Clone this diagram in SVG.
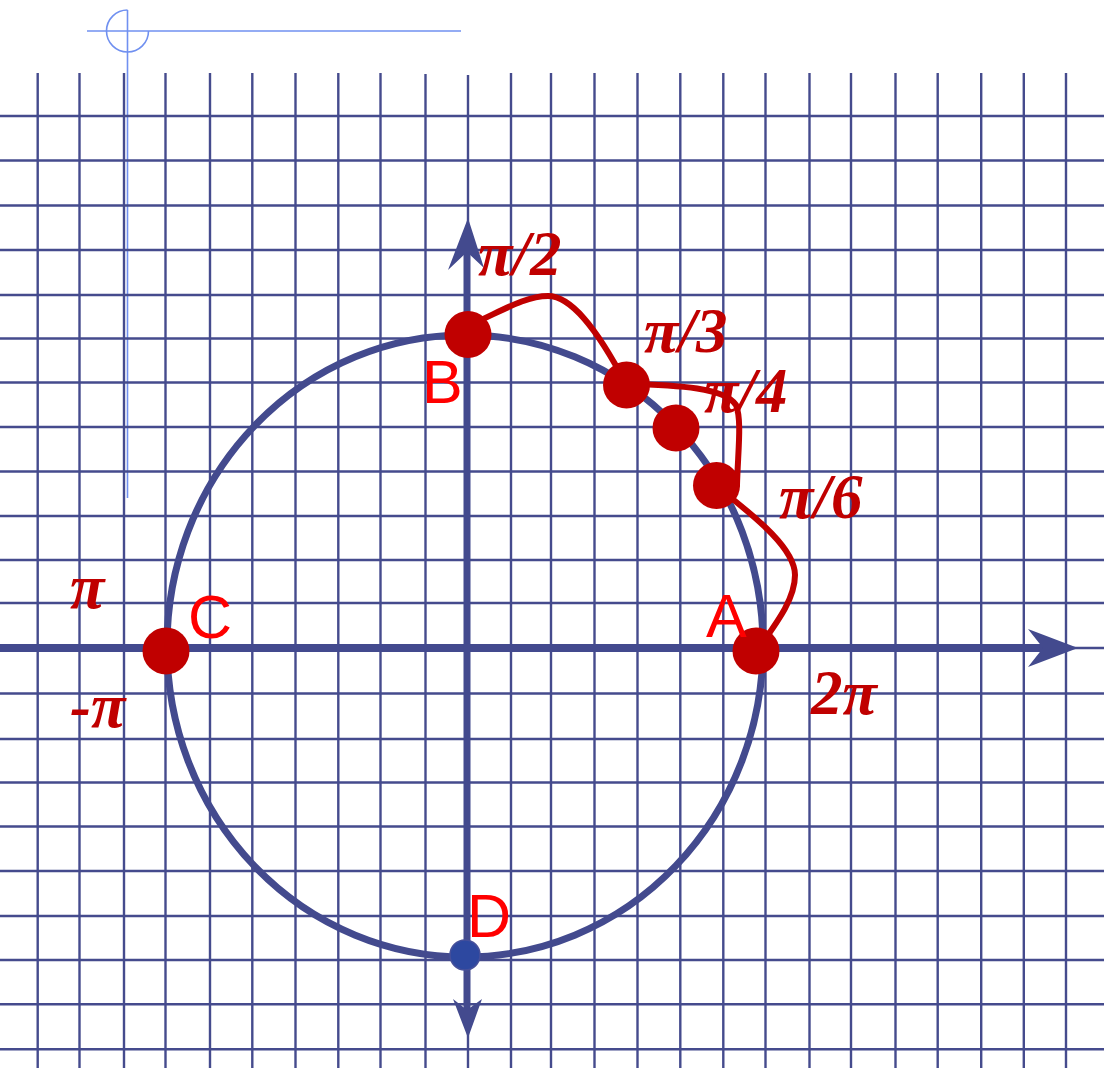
<svg xmlns="http://www.w3.org/2000/svg" width="1104" height="1068" viewBox="0 0 1104 1068">
<style>
.grid line{stroke:#454b8d;stroke-width:2.4}
.axis{stroke:#434a8e;stroke-width:8;fill:none}
.ring{stroke:#434a8e;stroke-width:7;fill:none}
.head{fill:#434a8e}
.guide{stroke:#7090f0;stroke-width:1.6;fill:none}
.curve{stroke:#c00000;stroke-width:6;fill:none;stroke-linecap:round}
.dot{fill:#c00000}
.ang{font-family:"Liberation Serif",serif;font-weight:bold;font-style:italic;font-size:63px;fill:#c00000}
.let{font-family:"Liberation Sans",sans-serif;font-size:61px;fill:#ff0000}
</style>
<rect width="1104" height="1068" fill="#ffffff"/>
<g id="guide">
<line class="guide" x1="127.5" y1="10" x2="127.5" y2="498"/>
<line class="guide" x1="87" y1="31" x2="461" y2="31"/>
<path class="guide" d="M127.5 10 A21 21 0 1 0 148.5 31"/>
</g>
<g id="grid" class="grid">
<line x1="37.7" y1="73" x2="37.7" y2="1068"/>
<line x1="79.5" y1="73" x2="79.5" y2="1068"/>
<line x1="124" y1="73" x2="124" y2="1068"/>
<line x1="165.5" y1="73" x2="165.5" y2="1068"/>
<line x1="210" y1="73" x2="210" y2="1068"/>
<line x1="252.3" y1="73" x2="252.3" y2="1068"/>
<line x1="295.5" y1="73" x2="295.5" y2="1068"/>
<line x1="338.3" y1="73" x2="338.3" y2="1068"/>
<line x1="380.5" y1="73" x2="380.5" y2="1068"/>
<line x1="425.5" y1="74" x2="425.5" y2="1068"/>
<line x1="468" y1="75" x2="468" y2="1068"/>
<line x1="511" y1="73" x2="511" y2="1068"/>
<line x1="551" y1="73" x2="551" y2="1068"/>
<line x1="594.5" y1="73" x2="594.5" y2="1068"/>
<line x1="637.5" y1="73" x2="637.5" y2="1068"/>
<line x1="680.3" y1="73" x2="680.3" y2="1068"/>
<line x1="723.3" y1="73" x2="723.3" y2="1068"/>
<line x1="765.5" y1="73" x2="765.5" y2="1068"/>
<line x1="809.5" y1="73" x2="809.5" y2="1068"/>
<line x1="851" y1="73" x2="851" y2="1068"/>
<line x1="895.5" y1="73" x2="895.5" y2="1068"/>
<line x1="937.7" y1="73" x2="937.7" y2="1068"/>
<line x1="981.2" y1="73" x2="981.2" y2="1068"/>
<line x1="1023.8" y1="73" x2="1023.8" y2="1068"/>
<line x1="1066" y1="73" x2="1066" y2="1068"/>
<line x1="0" y1="116" x2="1104" y2="116"/>
<line x1="0" y1="160.5" x2="1104" y2="160.5"/>
<line x1="0" y1="205.5" x2="1104" y2="205.5"/>
<line x1="0" y1="250" x2="1104" y2="250"/>
<line x1="0" y1="295" x2="1104" y2="295"/>
<line x1="0" y1="338.5" x2="1104" y2="338.5"/>
<line x1="0" y1="382.5" x2="1104" y2="382.5"/>
<line x1="0" y1="427" x2="1104" y2="427"/>
<line x1="0" y1="471.5" x2="1104" y2="471.5"/>
<line x1="0" y1="516" x2="1104" y2="516"/>
<line x1="0" y1="560" x2="1104" y2="560"/>
<line x1="0" y1="603" x2="1104" y2="603"/>
<line x1="0" y1="648" x2="1104" y2="648"/>
<line x1="0" y1="693.5" x2="1104" y2="693.5"/>
<line x1="0" y1="739" x2="1104" y2="739"/>
<line x1="0" y1="782.5" x2="1104" y2="782.5"/>
<line x1="0" y1="826.5" x2="1104" y2="826.5"/>
<line x1="0" y1="871" x2="1104" y2="871"/>
<line x1="0" y1="916" x2="1104" y2="916"/>
<line x1="0" y1="960" x2="1104" y2="960"/>
<line x1="0" y1="1004.3" x2="1104" y2="1004.3"/>
<line x1="0" y1="1049.3" x2="1104" y2="1049.3"/>
</g>
<g id="axes">
<line class="axis" x1="0" y1="648" x2="1045" y2="648"/>
<polygon class="head" points="1078,648 1028,629 1043,648 1028,667"/>
<line class="axis" x1="467" y1="250" x2="467" y2="1012" style="stroke-width:7"/>
<polygon class="head" points="468,218 448,270 467,252 484,268"/>
<polygon class="head" points="468,1038 453,999 467,1010 482,999"/>
</g>
<g id="unit-circle">
<ellipse class="ring" cx="465" cy="646" rx="298" ry="311"/>
</g>
<g id="connectors">
<path class="curve" d="M470 325 C500 312 525 296 548 296 C570 296 595 325 626 384"/>
<path class="curve" d="M626 384 C680 385 725 388 736 405 C742 420 738 450 737 485"/>
<path class="curve" d="M716 486 C760 520 795 550 795 575 C795 600 775 625 756 652"/>
</g>
<g id="node-B"><circle class="dot" cx="468" cy="334.5" r="23.5"/><text class="let" x="422" y="403">B</text></g>
<g id="node-pi3"><circle class="dot" cx="626.5" cy="385" r="23.5"/></g>
<g id="node-pi4"><circle class="dot" cx="676" cy="428" r="23.5"/></g>
<g id="node-pi6"><circle class="dot" cx="716.5" cy="485.5" r="23.5"/></g>
<g id="node-A"><circle class="dot" cx="756" cy="651" r="23.5"/><text class="let" x="706" y="637">A</text></g>
<g id="node-C"><circle class="dot" cx="166" cy="651" r="23.5"/><text class="let" x="188" y="638">C</text></g>
<g id="node-D"><circle cx="465" cy="955" r="15" fill="#2d48a0" stroke="#46509a" stroke-width="1.5"/><text class="let" x="467" y="937">D</text></g>
<g id="labels">
<text class="ang" x="478" y="275">π/2</text>
<text class="ang" x="644" y="352">π/3</text>
<text class="ang" x="704" y="412">π/4</text>
<text class="ang" x="779" y="518">π/6</text>
<text class="ang" x="70" y="608">π</text>
<text class="ang" x="70" y="727">-π</text>
<text class="ang" x="811" y="714">2π</text>
</g>
</svg>
